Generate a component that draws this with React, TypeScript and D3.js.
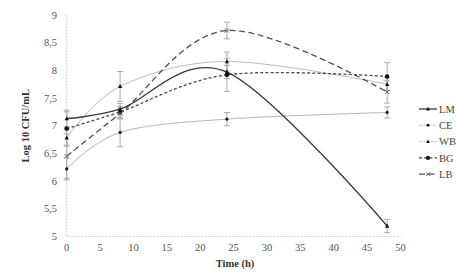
import React from "react";
import * as d3 from "d3";

const times = [0, 8, 24, 48];
const seriesNames = ["LM", "CE", "WB", "BG", "LB"];
const lmValues = [7.13, 7.3, 7.97, 5.19];
const ceValues = [6.22, 6.88, 7.12, 7.24];
const wbValues = [6.78, 7.71, 8.16, 7.75];
const bgValues = [6.95, 7.25, 7.92, 7.89];
const lbValues = [6.45, 7.22, 8.72, 7.61];
const lmErr = [0.15, 0.1, 0.12, 0.12];
const ceErr = [0.2, 0.26, 0.12, 0.1];
const wbErr = [0.15, 0.27, 0.17, 0.12];
const bgErr = [0.3, 0.1, 0.3, 0.25];
const lbErr = [0.4, 0.1, 0.15, 0.2];
const xTicks = [0, 5, 10, 15, 20, 25, 30, 35, 40, 45, 50];
const yTicks = [5, 5.5, 6, 6.5, 7, 7.5, 8, 8.5, 9];

type Style = { stroke: string; width: number; dash?: string; marker: string; msize: number };
const styles: Record<string, Style> = {
  LM: { stroke: "#3a3a3a", width: 1.3, marker: "tri", msize: 2.2 },
  CE: { stroke: "#b4b4b4", width: 1, marker: "circle", msize: 1.6 },
  WB: { stroke: "#bcbcbc", width: 1, marker: "tri", msize: 2.1 },
  BG: { stroke: "#454545", width: 1.3, dash: "3,2.2", marker: "circle", msize: 2.3 },
  LB: { stroke: "#505050", width: 1.3, dash: "6,3.5", marker: "x", msize: 2.1 },
};

const values: Record<string, number[]> = { LM: lmValues, CE: ceValues, WB: wbValues, BG: bgValues, LB: lbValues };
const errs: Record<string, number[]> = { LM: lmErr, CE: ceErr, WB: wbErr, BG: bgErr, LB: lbErr };

const x = d3.scaleLinear().domain([0, 50]).range([66.7, 400.5]);
const y = d3.scaleLinear().domain([5, 9]).range([236.5, 15]);
const fmt = (v: number) => String(v).replace(".", ",");
const font = "'Liberation Serif', 'DejaVu Serif', serif";

function Marker({ kind, cx, cy, s }: { kind: string; cx: number; cy: number; s: number }) {
  if (kind === "circle") return <circle cx={cx} cy={cy} r={s} fill="#111" />;
  if (kind === "tri")
    return (
      <path
        d={`M${cx},${cy - s * 1.1}L${cx + s},${cy + s * 0.8}L${cx - s},${cy + s * 0.8}Z`}
        fill="#111"
      />
    );
  return (
    <path
      d={`M${cx - s},${cy - s}L${cx + s},${cy + s}M${cx - s},${cy + s}L${cx + s},${cy - s}`}
      stroke="#666"
      strokeWidth={1}
    />
  );
}

export default function App() {
  const line = d3
    .line<number>()
    .x((_, i) => x(times[i]))
    .y((d) => y(d))
    .curve(d3.curveCardinal);

  return (
    <svg width={456} height={275} style={{ position: "absolute", left: 0, top: 0, background: "#fff" }}>
      <line x1={x(0)} x2={x(0)} y1={y(9)} y2={y(5)} stroke="#c8c8c8" strokeDasharray="1.5,1.5" />
      <line x1={x(0)} x2={x(50)} y1={y(5)} y2={y(5)} stroke="#c8c8c8" strokeDasharray="1.5,1.5" />
      {yTicks.map((t) => (
        <text key={t} x={57} y={y(t)} dy="0.35em" textAnchor="end" fontSize={10.5} fill="#555" fontFamily={font}>
          {fmt(t)}
        </text>
      ))}
      {xTicks.map((t) => (
        <text key={t} x={x(t)} y={251} textAnchor="middle" fontSize={10.5} fill="#555" fontFamily={font}>
          {t}
        </text>
      ))}
      <text x={235} y={267} textAnchor="middle" fontSize={10.5} fontWeight="bold" fill="#333" fontFamily={font}>
        Time (h)
      </text>
      <text
        transform={`translate(29,${(y(9) + y(5)) / 2}) rotate(-90)`}
        textAnchor="middle"
        fontSize={10.5}
        fontWeight="bold"
        fill="#333"
        fontFamily={font}
      >
        Log 10 CFU/mL
      </text>
      {seriesNames.map((n) =>
        times.map((t, i) => {
          const v = values[n][i];
          const e = errs[n][i];
          return (
            <g key={n + t} stroke="#aaa" strokeWidth={1}>
              <line x1={x(t)} x2={x(t)} y1={y(v + e)} y2={y(v - e)} />
              <line x1={x(t) - 3} x2={x(t) + 3} y1={y(v + e)} y2={y(v + e)} />
              <line x1={x(t) - 3} x2={x(t) + 3} y1={y(v - e)} y2={y(v - e)} />
            </g>
          );
        })
      )}
      {["CE", "WB", "LB", "BG", "LM"].map((n) => (
        <path
          key={n}
          d={line(values[n]) || ""}
          fill="none"
          stroke={styles[n].stroke}
          strokeWidth={styles[n].width}
          strokeDasharray={styles[n].dash}
        />
      ))}
      {seriesNames.map((n) =>
        times.map((t, i) => (
          <Marker key={n + t} kind={styles[n].marker} cx={x(t)} cy={y(values[n][i])} s={styles[n].msize} />
        ))
      )}
      {seriesNames.map((n, i) => {
        const ly = 109 + i * 16.3;
        const st = styles[n];
        return (
          <g key={n}>
            <line
              x1={419}
              x2={437}
              y1={ly}
              y2={ly}
              stroke={st.stroke}
              strokeWidth={st.width}
              strokeDasharray={n === "CE" || n === "WB" ? "1.5,1" : st.dash}
            />
            <Marker kind={st.marker} cx={428} cy={ly} s={st.msize * 0.9} />
            <text x={439} y={ly} dy="0.35em" fontSize={10.5} fill="#444" fontFamily={font}>
              {n}
            </text>
          </g>
        );
      })}
    </svg>
  );
}
